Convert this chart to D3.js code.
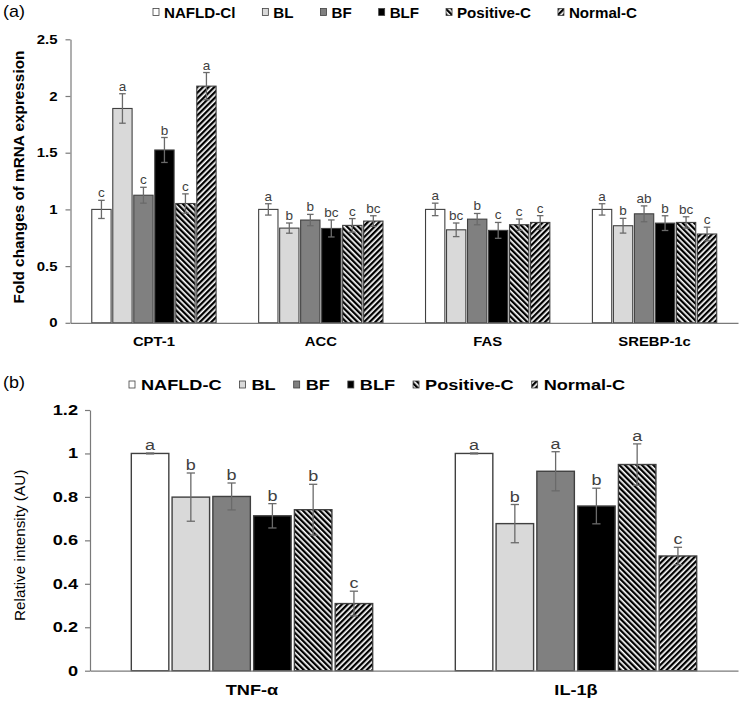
<!DOCTYPE html>
<html><head><meta charset="utf-8">
<script src="https://cdn.jsdelivr.net/npm/d3@7"></script>
<style>body{margin:0;background:#fff}svg{display:block;font-family:"Liberation Sans",Arial,sans-serif}</style>
</head><body><svg id="c" width="742" height="702"></svg>
<script>
// ---------- DATA ----------
const genes = ["CPT-1", "ACC", "FAS", "SREBP-1c"];
const groupsA = ["NAFLD-Cl", "BL", "BF", "BLF", "Positive-C", "Normal-C"];
// rows = groups, columns = genes
const mrnaMeans = [
  [1.00, 1.00, 1.00, 1.00],
  [1.89, 0.835, 0.82, 0.856],
  [1.125, 0.906, 0.914, 0.961],
  [1.524, 0.832, 0.815, 0.879],
  [1.052, 0.859, 0.865, 0.885],
  [2.087, 0.897, 0.885, 0.783]
];
const mrnaErrs = [
  [0.08, 0.05, 0.055, 0.05],
  [0.13, 0.045, 0.06, 0.065],
  [0.07, 0.05, 0.05, 0.07],
  [0.11, 0.075, 0.07, 0.065],
  [0.085, 0.06, 0.05, 0.05],
  [0.12, 0.047, 0.06, 0.06]
];
const mrnaLetters = [
  ["c", "a", "a", "a"],
  ["a", "b", "bc", "b"],
  ["c", "b", "b", "ab"],
  ["b", "bc", "c", "b"],
  ["c", "c", "c", "bc"],
  ["a", "bc", "c", "c"]
];
const yTicksA = [0, 0.5, 1, 1.5, 2, 2.5];

const cytokines = ["TNF-α", "IL-1β"];
const groupsB = ["NAFLD-C", "BL", "BF", "BLF", "Positive-C", "Normal-C"];
const protMeans = [
  [1.00, 1.00],
  [0.799, 0.677],
  [0.802, 0.918],
  [0.713, 0.758],
  [0.741, 0.949],
  [0.309, 0.528]
];
const protErrs = [
  [0.002, 0.002],
  [0.111, 0.088],
  [0.062, 0.09],
  [0.056, 0.082],
  [0.117, 0.095],
  [0.057, 0.04]
];
const protLetters = [
  ["a", "a"],
  ["b", "b"],
  ["b", "a"],
  ["b", "b"],
  ["b", "a"],
  ["c", "c"]
];
const yTicksB = [0, 0.2, 0.4, 0.6, 0.8, 1, 1.2];

// ---------- STYLE ----------
const fills = ["#ffffff", "#d9d9d9", "#808080", "#000000", "url(#hatchBack)", "url(#hatchFwd)"];
const FONT = '"Liberation Sans", Arial, sans-serif';

const svg = d3.select("#c");
const defs = svg.append("defs");
function hatch(id, angle) {
  const p = defs.append("pattern").attr("id", id).attr("patternUnits", "userSpaceOnUse")
    .attr("width", 4).attr("height", 4).attr("patternTransform", `rotate(${angle})`);
  p.append("rect").attr("width", 4).attr("height", 4).attr("fill", "#fff");
  p.append("rect").attr("width", 2.3).attr("height", 4).attr("fill", "#000");
}
hatch("hatchBack", -45);
hatch("hatchFwd", 45);

function stretchText(t, x, y, k) {
  t.attr("x", 0).attr("y", 0).attr("transform", `translate(${x},${y}) scale(${k},1)`);
}

function drawPanel(o) {
  const g = svg.append("g");
  const x0 = d3.scaleBand().domain(o.cats).range([o.left, o.right]).paddingInner(0.25).paddingOuter(0.125);
  const x1 = d3.scaleBand().domain(o.groups).range([0, x0.bandwidth()]).paddingInner(0.08).paddingOuter(0.02);
  const y = d3.scaleLinear().domain([0, o.ymax]).range([o.bottom, o.top]);

  // y axis
  const ya = g.append("g").attr("transform", `translate(${o.left},0)`)
    .call(d3.axisLeft(y).tickValues(o.ticks).tickSize(5).tickSizeOuter(0).tickFormat(d => String(d)));
  ya.select(".domain").attr("stroke", "#7a7a7a").attr("stroke-width", 1.2);
  ya.selectAll(".tick line").attr("stroke", "#7a7a7a").attr("stroke-width", 1.2);
  ya.selectAll(".tick text").each(function () {
    const t = d3.select(this);
    t.attr("x", -o.tickGap / o.tickK).attr("transform", `scale(${o.tickK},1)`)
      .attr("font-family", FONT).attr("font-size", o.tickFs).attr("font-weight", "bold").attr("fill", "#000");
  });

  // bars
  o.groups.forEach((grp, gi) => {
    o.cats.forEach((cat, ci) => {
      const v = o.means[gi][ci];
      g.append("rect")
        .attr("x", x0(cat) + x1(grp)).attr("y", y(v))
        .attr("width", x1.bandwidth()).attr("height", y(0) - y(v))
        .attr("fill", fills[gi]).attr("stroke", "#404040").attr("stroke-width", o.barStroke);
    });
  });

  // error bars + letters
  o.groups.forEach((grp, gi) => {
    o.cats.forEach((cat, ci) => {
      const v = o.means[gi][ci], e = o.errs[gi][ci];
      const cx = x0(cat) + x1(grp) + x1.bandwidth() / 2;
      const cw = x1.bandwidth() * o.capFrac;
      const eg = g.append("g").attr("stroke", "#6a6a6a").attr("stroke-width", 1.3);
      eg.append("line").attr("x1", cx).attr("x2", cx).attr("y1", y(v - e)).attr("y2", y(v + e));
      eg.append("line").attr("x1", cx - cw).attr("x2", cx + cw).attr("y1", y(v + e)).attr("y2", y(v + e));
      eg.append("line").attr("x1", cx - cw).attr("x2", cx + cw).attr("y1", y(v - e)).attr("y2", y(v - e));
      const t = g.append("text").text(o.letters[gi][ci])
        .attr("text-anchor", "middle").attr("font-family", FONT).attr("font-size", o.letFs).attr("fill", "#404040");
      stretchText(t, cx, y(v + e) - 3, o.letK);
    });
  });

  // x axis
  const xa = g.append("g").attr("transform", `translate(0,${o.bottom})`)
    .call(d3.axisBottom(x0).tickSize(0).tickSizeOuter(0));
  xa.select(".domain").attr("stroke", "#7a7a7a").attr("stroke-width", 1.2);
  xa.selectAll(".tick text").each(function () {
    const t = d3.select(this);
    t.attr("y", 0).attr("dy", null).attr("transform", `translate(0,${o.catDy}) scale(${o.catK},1)`)
      .attr("font-family", FONT).attr("font-size", o.catFs).attr("font-weight", "bold").attr("fill", "#000");
  });

  // y title
  g.append("text").text(o.yTitle)
    .attr("transform", `translate(${o.yTitleX},${(o.top + o.bottom) / 2 + o.yTitleShift}) rotate(-90)`)
    .attr("text-anchor", "middle").attr("font-family", FONT).attr("font-size", o.yTitleFs)
    .attr("font-weight", o.yTitleWeight).attr("fill", "#000");

  // panel label
  const pl = g.append("text").text(o.panel).attr("font-family", FONT).attr("font-size", 16).attr("fill", "#000");
  stretchText(pl, 3, o.panelY, 1.12);

  // legend
  let lx = o.legX;
  o.groups.forEach((grp, gi) => {
    g.append("rect").attr("x", lx).attr("y", o.legY - 9).attr("width", 6).attr("height", 7)
      .attr("fill", fills[gi]).attr("stroke", "#404040").attr("stroke-width", 0.8);
    const t = g.append("text").text(grp).attr("font-family", FONT).attr("font-size", o.legFs)
      .attr("font-weight", "bold").attr("fill", "#000");
    stretchText(t, lx + o.legTextGap, o.legY, o.legK);
    const w = t.node().getComputedTextLength() * o.legK;
    lx += o.legTextGap + w + o.legSpacing;
  });
}

drawPanel({
  cats: genes, groups: groupsA, means: mrnaMeans, errs: mrnaErrs, letters: mrnaLetters,
  ticks: yTicksA, ymax: 2.5, left: 70.5, right: 738, top: 39.3, bottom: 322.8,
  tickGap: 13, tickK: 1.15, tickFs: 13, barStroke: 1.1, capFrac: 0.17,
  letFs: 13.5, letK: 1.0, catDy: 23, catK: 1.1, catFs: 13.5,
  yTitle: "Fold changes of mRNA expression", yTitleX: 24, yTitleShift: -4, yTitleWeight: "bold", yTitleFs: 15.3,
  panel: "(a)", panelY: 17,
  legX: 153, legY: 17.5, legFs: 14, legK: 1.08, legTextGap: 11, legSpacing: 27
});

drawPanel({
  cats: cytokines, groups: groupsB, means: protMeans, errs: protErrs, letters: protLetters,
  ticks: yTicksB, ymax: 1.2, left: 90, right: 738, top: 410, bottom: 670.7,
  tickGap: 12, tickK: 1.3, tickFs: 14, barStroke: 1.4, capFrac: 0.11,
  letFs: 15, letK: 1.2, catDy: 24, catK: 1.25, catFs: 14.5,
  yTitle: "Relative intensity (AU)", yTitleX: 25, yTitleShift: 5, yTitleWeight: "normal", yTitleFs: 15.3,
  panel: "(b)", panelY: 388,
  legX: 129, legY: 390, legFs: 14.5, legK: 1.25, legTextGap: 12, legSpacing: 18
});
</script></body></html>
